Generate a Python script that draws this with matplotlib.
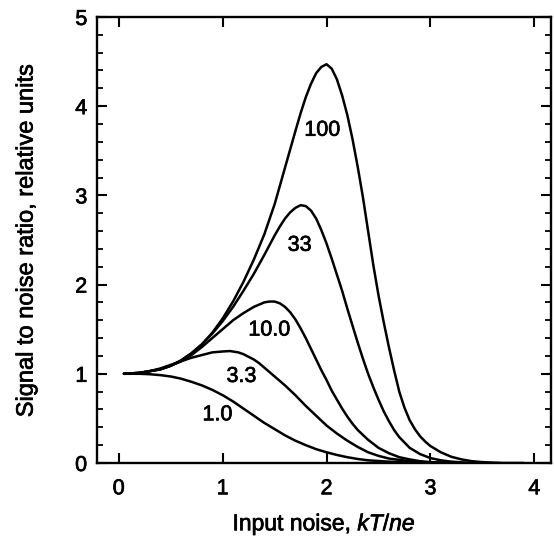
import matplotlib
matplotlib.use("Agg")
import matplotlib.pyplot as plt
import matplotlib.patheffects as pe
from matplotlib.ticker import MultipleLocator

plt.rcParams['font.family'] = ['Liberation Sans', 'DejaVu Sans']
plt.rcParams['mathtext.fontset'] = 'custom'
plt.rcParams['mathtext.rm'] = 'Liberation Sans'
plt.rcParams['mathtext.it'] = 'Liberation Sans:italic'

# curve readings (input noise kT/ne, signal to noise ratio)
x_100 = [0.05, 0.2, 0.3, 0.4, 0.5, 0.6, 0.7, 0.8, 0.9, 1.0, 1.1, 1.2, 1.3, 1.4, 1.5, 1.6, 1.7, 1.75,
         1.8, 1.85, 1.9, 1.95, 2.0, 2.05, 2.1, 2.15, 2.2, 2.25, 2.3, 2.35, 2.4, 2.45, 2.5, 2.55, 2.6,
         2.65, 2.7, 2.75, 2.8, 2.85, 2.9, 2.95, 3.0, 3.1, 3.2, 3.3, 3.4, 3.5, 3.7, 3.9]
y_100 = [1.00, 1.01, 1.03, 1.05, 1.09, 1.15, 1.23, 1.33, 1.46, 1.62, 1.81, 2.03, 2.28, 2.56, 2.90,
         3.31, 3.72, 3.92, 4.10, 4.25, 4.37, 4.44, 4.47, 4.42, 4.30, 4.12, 3.90, 3.63, 3.32, 2.98,
         2.60, 2.22, 1.88, 1.58, 1.30, 1.04, 0.80, 0.62, 0.48, 0.38, 0.30, 0.24, 0.19, 0.12, 0.07,
         0.04, 0.02, 0.01, 0.0, 0.0]

x_33 = [0.05, 0.2, 0.3, 0.4, 0.5, 0.6, 0.7, 0.8, 0.9, 1.0, 1.1, 1.2, 1.3, 1.4, 1.5, 1.55, 1.6, 1.65,
        1.7, 1.75, 1.8, 1.85, 1.9, 1.95, 2.0, 2.05, 2.1, 2.15, 2.2, 2.25, 2.3, 2.35, 2.4, 2.45, 2.5,
        2.55, 2.6, 2.65, 2.7, 2.8, 2.9, 3.0, 3.1, 3.2, 3.4]
y_33 = [1.00, 1.01, 1.03, 1.05, 1.09, 1.15, 1.23, 1.33, 1.45, 1.59, 1.75, 1.93, 2.12, 2.33, 2.55,
        2.65, 2.74, 2.81, 2.86, 2.89, 2.88, 2.83, 2.74, 2.61, 2.46, 2.29, 2.11, 1.93, 1.73, 1.54,
        1.35, 1.17, 1.00, 0.85, 0.71, 0.58, 0.47, 0.37, 0.29, 0.17, 0.10, 0.055, 0.03, 0.015, 0.0]

x_10 = [0.05, 0.2, 0.3, 0.4, 0.5, 0.6, 0.7, 0.8, 0.9, 1.0, 1.1, 1.2, 1.3, 1.4, 1.45, 1.5, 1.55, 1.6,
        1.65, 1.7, 1.75, 1.8, 1.85, 1.9, 1.95, 2.0, 2.05, 2.1, 2.15, 2.2, 2.25, 2.3, 2.4, 2.5, 2.6,
        2.7, 2.8, 2.9, 3.0, 3.2]
y_10 = [1.00, 1.01, 1.03, 1.05, 1.09, 1.14, 1.21, 1.30, 1.40, 1.50, 1.60, 1.68, 1.75, 1.80, 1.81,
        1.81, 1.79, 1.75, 1.69, 1.61, 1.51, 1.40, 1.28, 1.16, 1.04, 0.93, 0.81, 0.71, 0.61, 0.52,
        0.44, 0.37, 0.26, 0.17, 0.11, 0.065, 0.04, 0.02, 0.01, 0.0]

x_3 = [0.05, 0.2, 0.3, 0.4, 0.5, 0.6, 0.7, 0.8, 0.9, 1.0, 1.07, 1.15, 1.2, 1.25, 1.3, 1.35, 1.4,
       1.5, 1.6, 1.7, 1.8, 1.9, 2.0, 2.1, 2.2, 2.3, 2.4, 2.5, 2.6, 2.8, 3.0, 3.2]
y_3 = [1.00, 1.01, 1.03, 1.06, 1.10, 1.14, 1.18, 1.21, 1.24, 1.25, 1.255, 1.24, 1.22, 1.19, 1.16,
       1.12, 1.07, 0.97, 0.87, 0.76, 0.64, 0.53, 0.42, 0.33, 0.25, 0.18, 0.12, 0.08, 0.05, 0.02,
       0.005, 0.0]

x_1 = [0.05, 0.2, 0.3, 0.4, 0.5, 0.6, 0.7, 0.8, 0.9, 1.0, 1.1, 1.2, 1.3, 1.4, 1.5, 1.6, 1.7, 1.8,
       1.9, 2.0, 2.1, 2.2, 2.3, 2.4, 2.6, 2.8, 3.0]
y_1 = [1.00, 1.00, 0.995, 0.985, 0.97, 0.945, 0.91, 0.87, 0.82, 0.76, 0.69, 0.61, 0.53, 0.45, 0.38,
       0.31, 0.25, 0.20, 0.155, 0.12, 0.09, 0.065, 0.045, 0.03, 0.015, 0.005, 0.0]

curve_labels = ['100', '33', '10.0', '3.3', '1.0']

# scanned-looking heavier text
heavy = [pe.withStroke(linewidth=0.5, foreground='black')]

fig = plt.figure(figsize=(5.54, 5.40), dpi=100)
ax = fig.add_axes([0.175, 0.1426, 0.8195, 0.826])

for xs, ys in [(x_100, y_100), (x_33, y_33), (x_10, y_10), (x_3, y_3), (x_1, y_1)]:
    ax.plot(xs, ys, color='black', lw=1.8, solid_capstyle='round', solid_joinstyle='round')

# label positions next to each curve
label_pos = [(1.96, 3.73), (1.74, 2.44), (1.45, 1.49), (1.18, 0.97), (0.95, 0.54)]
for txt, (lx, ly) in zip(curve_labels, label_pos):
    ax.text(lx, ly, txt, fontsize=15.5, ha='center', va='center', path_effects=heavy)

ax.set_xlim(-0.21, 4.16)
ax.set_ylim(0, 5)
ax.xaxis.set_major_locator(MultipleLocator(1))
ax.yaxis.set_major_locator(MultipleLocator(1))
ax.yaxis.set_minor_locator(MultipleLocator(0.2))

ax.tick_params(which='major', direction='in', length=7, width=1.5, top=True, right=True,
               labelsize=15.5)
ax.tick_params(axis='x', which='major', pad=11)
ax.tick_params(axis='y', which='major', pad=7)
ax.tick_params(which='minor', direction='in', length=4, width=1.3, top=False, right=True)
ax.tick_params(axis='x', which='minor', bottom=False, top=False)
for sp in ax.spines.values():
    sp.set_linewidth(1.7)
for lab in ax.get_xticklabels() + ax.get_yticklabels():
    lab.set_path_effects(heavy)

ax.set_xlabel('Input noise, $\\mathit{kT/ne}$', fontsize=16.5, labelpad=8, path_effects=heavy)
ax.set_ylabel('Signal to noise ratio, relative units', fontsize=17, labelpad=27,
              path_effects=heavy)

fig.savefig('out.png', dpi=100)
